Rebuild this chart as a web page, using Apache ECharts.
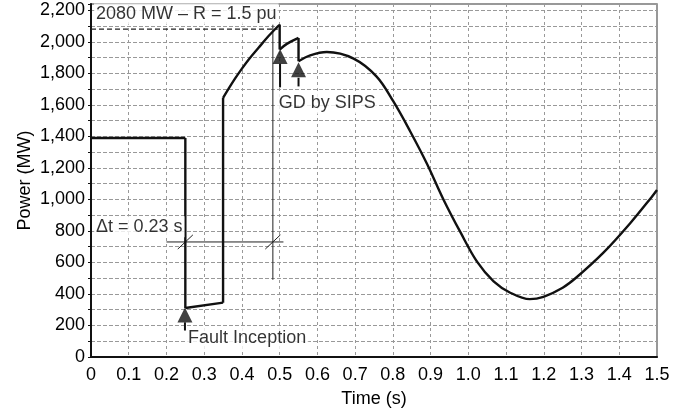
<!DOCTYPE html>
<html>
<head>
<meta charset="utf-8">
<script src="https://cdn.jsdelivr.net/npm/echarts@6/dist/echarts.min.js"></script>
<style>
  html, body { margin: 0; padding: 0; background: #fff; }
  #chart { width: 698px; height: 413px; }
</style>
</head>
<body>
<div id="chart"></div>
<script>
// power response; a repeated time marks a step
const time = [0, 0.25, 0.25, 0.35, 0.35, 0.364, 0.382, 0.4, 0.417, 0.444, 0.47, 0.5, 0.5, 0.519,
  0.55, 0.55, 0.581, 0.625, 0.696, 0.757, 0.801, 0.845, 0.89, 0.934, 0.979, 1.023, 1.067, 1.111,
  1.163, 1.199, 1.25, 1.287, 1.358, 1.429, 1.486, 1.5];
const power = [1390, 1390, 311, 345, 1645, 1700, 1768, 1830, 1885, 1962, 2035, 2110, 1951, 1987,
  2025, 1877, 1914, 1935, 1893, 1779, 1623, 1436, 1228, 1000, 792, 605, 480, 408,
  367, 382, 440, 506, 662, 849, 1016, 1060];

const refLevel = 2080;          // dashed level line
const faultTime = 0.25;
const markerTime = 0.482;       // thin vertical marker, 0.25 + 0.23
const dimLevel = 730;

// arrows: [time, tip, base, stemEnd]
const arrows = [
  [0.249, 314, 220, 168],
  [0.501, 1954, 1861, 1711],
  [0.55, 1872, 1772, 1717],
];

// text: [time, power, text]
const notes = [
  [0.008, 2177, '2080 MW \u2013 R = 1.5 pu'],
  [0.008, 826, '\u0394t = 0.23 s'],
  [0.252, 118, 'Fault Inception'],
  [0.492, 1610, 'GD by SIPS'],
];

const font = 'Arial, "Liberation Sans", sans-serif';
const ink = '#000';

// split the curve into smooth pieces and the vertical steps between them
const pieces = [];
const steps = [];
let cur = [[time[0], power[0]]];
for (let i = 1; i < time.length; i++) {
  if (time[i] === time[i - 1]) {
    pieces.push(cur);
    steps.push([[time[i - 1], power[i - 1]], [time[i], power[i]]]);
    cur = [[time[i], power[i]]];
  } else {
    cur.push([time[i], power[i]]);
  }
}
pieces.push(cur);

const thin = (data, extra) => Object.assign({
  type: 'line', data, symbol: 'none', silent: true,
  lineStyle: { color: '#222', width: 1 }, z: 3,
}, extra);

const series = [];
pieces.forEach((p) => series.push({
  type: 'line', data: p, symbol: 'none',
  smooth: p.length > 2 ? 0.35 : false,
  lineStyle: { color: '#111', width: 2.4 }, z: 5,
}));
steps.forEach((s) => series.push({
  type: 'line', data: s, symbol: 'none', lineStyle: { color: '#111', width: 2.4 }, z: 5,
}));

series.push(thin([[0, refLevel], [0.495, refLevel]], { lineStyle: { color: '#222', width: 1.2, type: [5, 3] } }));
series.push(thin([[markerTime, 2110], [markerTime, 490]]));
series.push(thin([[0.2, dimLevel], [0.51, dimLevel]]));
[faultTime, markerTime].forEach((t) => series.push(thin([[t - 0.02, dimLevel - 45], [t + 0.02, dimLevel + 45]])));

arrows.forEach((a) => {
  series.push(thin([[a[0], a[2]], [a[0], a[3]]], { lineStyle: { color: '#111', width: 2 }, z: 6 }));
});
series.push({
  type: 'scatter', symbol: 'triangle', symbolSize: [15, 15], silent: true, z: 6,
  itemStyle: { color: '#111' },
  data: arrows.map((a) => [a[0], (a[1] + a[2]) / 2]),
});

series.push({
  type: 'scatter', symbolSize: 0, silent: true, z: 7,
  data: notes.map((n) => ({ value: [n[0], n[1]], name: n[2] })),
  label: {
    show: true, position: 'right', distance: 0, formatter: '{b}',
    color: ink, fontSize: 18, fontFamily: font,
    backgroundColor: '#fff', padding: [2, 2, 1, 2],
  },
});

const chart = echarts.init(document.getElementById('chart'));
chart.setOption({
  animation: false,
  backgroundColor: '#fff',
  grid: { left: 91, right: 41, top: 4, bottom: 49, show: true, borderColor: '#777', borderWidth: 1.5 },
  xAxis: {
    type: 'value', min: 0, max: 1.5, interval: 0.1,
    name: 'Time (s)', nameLocation: 'middle', nameGap: 33, nameMoveOverlap: false,
    nameTextStyle: { color: ink, fontSize: 18, fontFamily: font },
    axisLine: { show: true, onZero: false, lineStyle: { color: '#111', width: 2 } },
    axisTick: { show: false },
    axisLabel: {
      color: ink, fontSize: 18, fontFamily: font, margin: 9,
      formatter: (v) => (v === 0 ? '0' : v.toFixed(1)),
    },
    splitLine: { show: true, lineStyle: { color: '#999', width: 1, type: [3, 3] } },
  },
  yAxis: {
    type: 'value', min: 0, max: 2240, interval: 100,
    name: 'Power (MW)', nameLocation: 'middle', nameGap: 57, nameMoveOverlap: false,
    nameTextStyle: { color: ink, fontSize: 18, fontFamily: font },
    axisLine: { show: true, lineStyle: { color: '#111', width: 2 } },
    axisTick: { show: true, length: 3, lineStyle: { color: '#111' } },
    axisLabel: {
      color: ink, fontSize: 18, fontFamily: font, margin: 6,
      formatter: (v) => (v % 200 === 0 ? v.toLocaleString('en-US') : ''),
    },
    splitLine: { show: true, lineStyle: { color: '#999', width: 1, type: [4, 2] } },
  },
  series,
});
</script>
</body>
</html>
